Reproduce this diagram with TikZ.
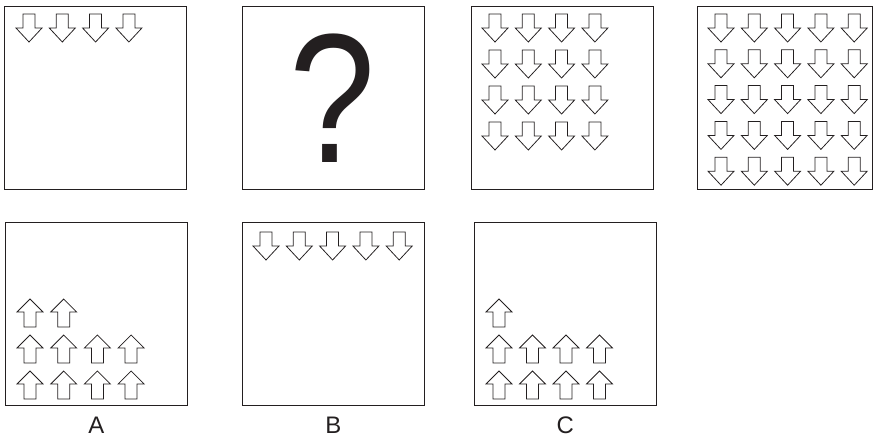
\documentclass[tikz,border=0pt]{standalone}
\usepackage{fontspec}
\setmainfont{Liberation Sans}
\usepackage{tikz}
\usetikzlibrary{positioning}
\definecolor{ink}{HTML}{231F20}
\tikzset{
  panel/.style={rectangle, draw=ink, line width=0.75pt, inner sep=0pt,
                minimum width=4.55cm, minimum height=4.57cm},
  arrowline/.style={draw=ink, line width=0.55pt, line join=miter},
  caption/.style={font=\fontsize{17}{20}\selectfont, text=ink, inner sep=0pt},
  qmark/.style={font=\fontsize{131}{131}\selectfont, text=ink, inner sep=0pt, xscale=0.84},
  dnarrow/.pic={\draw[arrowline] (7,0) -- (19,0) -- (19,14) -- (26,14) -- (13,28) -- (0,14) -- (7,14) -- cycle;},
  uparrow/.pic={\draw[arrowline] (13,0) -- (26,13) -- (19,13) -- (19,28) -- (7,28) -- (7,13) -- (0,13) -- cycle;}
}
\begin{document}
\begin{tikzpicture}[x=0.025cm, y=-0.025cm]
\useasboundingbox (0,0) rectangle (874,437);
% top row
\node[panel] (first) at (95.5,98) {};
\node[panel] (second) at (333.3,98) {};
\node[panel] (third) at (562.3,98) {};
\node[panel, minimum width=4.375cm] (fourth) at (784.7,98) {};
\node[qmark] (ask) at (333,98) {?};
\foreach \i in {0,...,3}
  \pic at ({16+33.3*\i},14) {dnarrow};
\foreach \i in {0,...,3}
  \foreach \j in {0,...,3}
    \pic at ({482+33.3*\i},{14+36*\j}) {dnarrow};
\foreach \i in {0,...,4}
  \foreach \j in {0,...,4}
    \pic at ({708+33.3*\i},{14+35.8*\j}) {dnarrow};
% answers
\node[panel] (optA) at (96.3,314) {};
\node[panel] (optB) at (333.3,314) {};
\node[panel] (optC) at (565.3,314) {};
\node[caption, below=7.8pt of optA] (labA) {A};
\node[caption, below=7.8pt of optB] (labB) {B};
\node[caption, below=7.8pt of optC] (labC) {C};
\foreach \i in {0,1}
  \pic at ({17+33.7*\i},299) {uparrow};
\foreach \i in {0,...,3}
  \foreach \j in {0,1}
    \pic at ({17+33.7*\i},{335+36*\j}) {uparrow};
\foreach \i in {0,...,4}
  \pic at ({253+33.3*\i},232) {dnarrow};
\pic at (486,299) {uparrow};
\foreach \i in {0,...,3}
  \foreach \j in {0,1}
    \pic at ({486+33.5*\i},{335+36*\j}) {uparrow};
\end{tikzpicture}
\end{document}
